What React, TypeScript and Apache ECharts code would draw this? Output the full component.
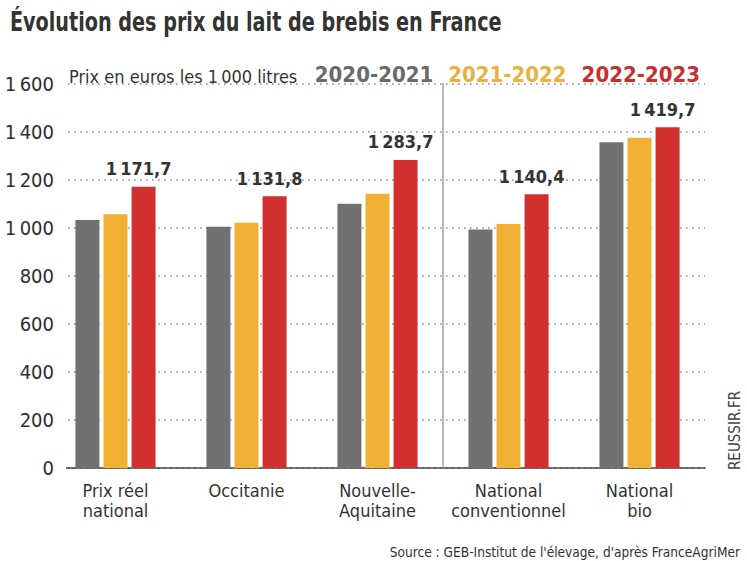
import React, { useEffect, useRef } from "react";
import * as echarts from "echarts";

const titleText = "Évolution des prix du lait de brebis en France";
const subtitleText = "Prix en euros les 1\u2009000 litres";
const sourceText = "Source : GEB-Institut de l'élevage, d'après FranceAgriMer";
const brandText = "REUSSIR.FR";

const categories = [
  "Prix réel\nnational",
  "Occitanie",
  "Nouvelle-\nAquitaine",
  "National\nconventionnel",
  "National\nbio",
];
const seriesNames = ["2020-2021", "2021-2022", "2022-2023"];
const values2020 = [1033, 1005, 1101, 994, 1357];
const values2021 = [1057, 1022, 1143, 1017, 1376];
const values2022 = [1171.7, 1131.8, 1283.7, 1140.4, 1419.7];
const barColors = ["#717171", "#f2b134", "#d1302f"];
const legendColors = ["#6a6a6a", "#e9b13f", "#c6302f"];

const FONT = "'DejaVu Sans Condensed','Liberation Sans Narrow',sans-serif";

function fmtThousands(n: number): string {
  const s = Math.round(n).toString();
  return s.replace(/\B(?=(\d{3})+(?!\d))/g, "\u2009");
}
function fmtDecimal(n: number): string {
  const [i, d] = n.toFixed(1).split(".");
  return fmtThousands(Number(i)) + "," + d;
}

export default function App() {
  const ref = useRef<HTMLDivElement>(null);
  useEffect(() => {
    if (!ref.current) return;
    const chart = echarts.init(ref.current, null, { renderer: "svg" });
    const allValues = [values2020, values2021, values2022];
    chart.setOption({
      animation: false,
      backgroundColor: "#ffffff",
      textStyle: { fontFamily: FONT },
      title: [
        {
          text: subtitleText,
          left: 64,
          top: 62,
          textStyle: { fontFamily: FONT, fontSize: 18, fontWeight: "normal", color: "#333333" },
        },
        {
          text: sourceText,
          right: 2,
          top: 540,
          textStyle: { fontFamily: FONT, fontSize: 13.6, fontWeight: "normal", color: "#333333" },
        },
      ],
      legend: {
        right: 42,
        top: 58,
        icon: "none",
        itemWidth: 0,
        itemGap: 10,
        selectedMode: false,
        data: seriesNames.map((n, i) => ({
          name: n,
          textStyle: { color: legendColors[i], fontSize: 22, fontWeight: "bold", fontFamily: FONT },
        })),
      },
      grid: { left: 50, right: 42, top: 84, bottom: 93, containLabel: false },
      xAxis: {
        type: "category",
        data: categories,
        axisLine: { show: true, lineStyle: { color: "#444444", width: 1.5 } },
        axisTick: { show: false },
        axisLabel: {
          interval: 0,
          color: "#333333",
          fontSize: 18,
          lineHeight: 20,
          margin: 12,
          fontFamily: FONT,
        },
      },
      yAxis: {
        type: "value",
        min: 0,
        max: 1600,
        interval: 200,
        axisLine: { show: false },
        axisTick: { show: false },
        axisLabel: {
          color: "#2e2e2e",
          fontSize: 20,
          fontFamily: FONT,
          margin: -16,
          padding: [0, 12, 0, 0],
          backgroundColor: "#ffffff",
          formatter: (v: number) => fmtThousands(v),
        },
        splitLine: {
          show: true,
          lineStyle: { color: "#8c8c8c", width: 1.6, type: [1.6, 4.4] },
        },
      },
      series: seriesNames.map((name, i) => ({
        name,
        type: "bar",
        data: allValues[i],
        barWidth: 24,
        barGap: "17%",
        itemStyle: { color: barColors[i] },
        label:
          i === 2
            ? {
                show: true,
                position: "top",
                distance: 9,
                offset: [-5, 0],
                color: "#333333",
                fontSize: 18,
                fontWeight: "bold",
                fontFamily: FONT,
                formatter: (p: any) => fmtDecimal(p.value),
              }
            : { show: false },
      })),
    });

    // separator between regional and national groups, placed via the axis scales
    const xa = chart.convertToPixel({ xAxisIndex: 0 }, 2) as number;
    const xb = chart.convertToPixel({ xAxisIndex: 0 }, 3) as number;
    const yTop = chart.convertToPixel({ yAxisIndex: 0 }, 1600) as number;
    const yBottom = chart.convertToPixel({ yAxisIndex: 0 }, 0) as number;
    const xSep = (xa + xb) / 2;

    chart.setOption({
      graphic: [
        {
          type: "text",
          x: 10,
          y: 8,
          scaleX: 0.79,
          style: {
            text: titleText,
            fontSize: 27,
            fontWeight: "bold",
            fontFamily: FONT,
            fill: "#333333",
          },
        },
        {
          type: "line",
          shape: { x1: xSep, y1: yTop - 1, x2: xSep, y2: yBottom },
          style: { stroke: "#8a8a8a", lineWidth: 1.2 },
          z: 1,
        },
        {
          type: "text",
          x: 735,
          y: 470,
          rotation: Math.PI / 2,
          style: {
            text: brandText,
            fontSize: 15,
            fontFamily: FONT,
            fill: "#444444",
            textAlign: "left",
            textVerticalAlign: "middle",
          },
        },
      ],
    });
    return () => chart.dispose();
  }, []);
  return (
    <div
      ref={ref}
      style={{ position: "fixed", left: 0, top: 0, width: 747, height: 561 }}
    />
  );
}
